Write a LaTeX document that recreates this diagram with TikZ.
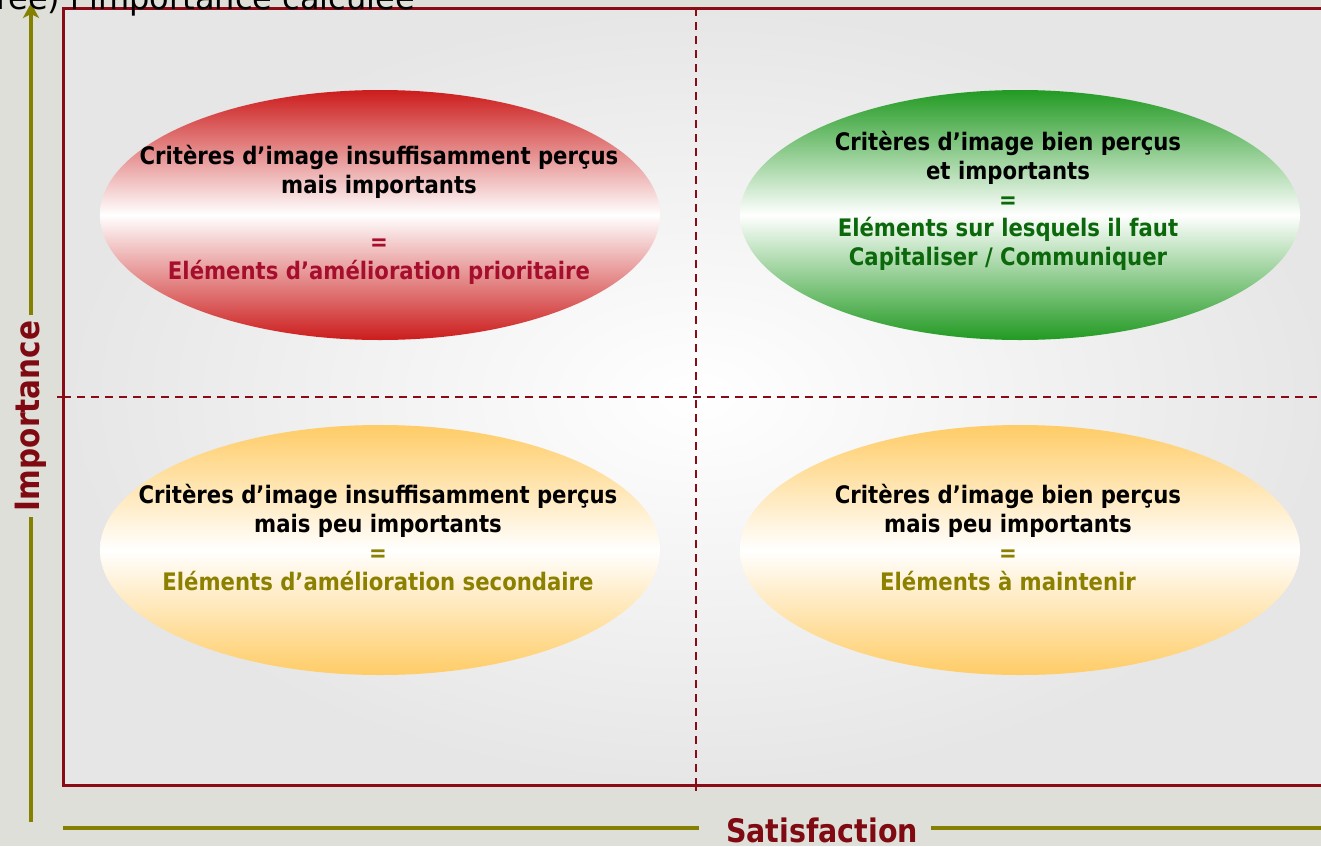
\documentclass[tikz,border=0pt]{standalone}
\usepackage{fontspec}
\setmainfont{DejaVu Sans}[FakeStretch=0.88]
\newfontfamily\headfont{DejaVu Sans}
\usetikzlibrary{shapes.geometric,arrows.meta,calc}

\definecolor{pagebg}{HTML}{DFDFD9}
\definecolor{plotbg}{HTML}{E6E6E6}
\definecolor{framered}{HTML}{8A0A16}
\definecolor{axisolive}{HTML}{858000}
\definecolor{labelred}{HTML}{800A12}
\definecolor{hotred}{HTML}{CC1C1C}
\definecolor{leafgreen}{HTML}{229A22}
\definecolor{gold}{HTML}{FFCC66}
\definecolor{txtred}{HTML}{A50F2D}
\definecolor{txtgreen}{HTML}{0B680B}
\definecolor{txtolive}{HTML}{8C8000}

\begin{document}
\begin{tikzpicture}[x=1pt,y=-1pt,
  zone/.style={ellipse, minimum width=560pt, minimum height=250pt, inner sep=0pt},
  zonetext/.style={align=center, font=\fontsize{24.1}{28.7}\selectfont\bfseries, inner sep=0pt},
  axislabel/.style={font=\fontsize{32.4}{34}\selectfont\bfseries, text=labelred, inner sep=0pt},
  axisline/.style={draw=axisolive, line width=4.5pt},
  divider/.style={draw=framered, line width=1.5pt, dash pattern=on 8pt off 6pt},
  tick/.style={draw=framered, line width=1.5pt}
]
% page and plot area
\useasboundingbox (0,0) rectangle (1321,846);
\fill[pagebg] (0,0) rectangle (1321,846);
\coordinate (plotNW) at (63,8);
\coordinate (plotSE) at (1331,785);
\shade[inner color=white, outer color=plotbg] (plotNW) rectangle (plotSE);

% quadrant dividers
\coordinate (vTop) at (696,8);
\coordinate (vBot) at (696,785);
\coordinate (vTick) at (696,791);
\coordinate (hLeft) at (63,397);
\coordinate (hTick) at (57,397);
\coordinate (hRight) at (1321,397);
\draw[divider] (vTop) -- (vBot);
\draw[divider] (hLeft) -- (hRight);
\draw[tick] (vBot) -- (vTick);
\draw[tick] (hTick) -- (hLeft);

% quadrant ellipses
\node[zone, top color=hotred, bottom color=hotred, middle color=white] (tlZone) at (380,215) {};
\node[zone, top color=leafgreen, bottom color=leafgreen, middle color=white] (trZone) at (1020,215) {};
\node[zone, top color=gold, bottom color=gold, middle color=white] (blZone) at (380,550) {};
\node[zone, top color=gold, bottom color=gold, middle color=white] (brZone) at (1020,550) {};

\node[zonetext] (tlText) at (379,215) {Critères d’image insuffisamment perçus\\ mais importants\\[28.7pt] \textcolor{txtred}{=}\\ \textcolor{txtred}{Eléments d’amélioration prioritaire}};
\node[zonetext] (trText) at (1008,201) {Critères d’image bien perçus\\ et importants\\ \textcolor{txtgreen}{=}\\ \textcolor{txtgreen}{Eléments sur lesquels il faut}\\ \textcolor{txtgreen}{Capitaliser / Communiquer}};
\node[zonetext] (blText) at (378,537.5) {Critères d’image insuffisamment perçus\\ mais peu importants\\ \textcolor{txtolive}{=}\\ \textcolor{txtolive}{Eléments d’amélioration secondaire}};
\node[zonetext] (brText) at (1008,537.5) {Critères d’image bien perçus\\ mais peu importants\\ \textcolor{txtolive}{=}\\ \textcolor{txtolive}{Eléments à maintenir}};

% plot frame
\draw[framered, line width=3pt] (plotNW) rectangle (plotSE);

% axes (canvas shifts: positive yshift points up the page)
\node[axislabel, font=\fontsize{33.5}{35}\selectfont\bfseries, rotate=90] (imp) at (31,416) {Importance};
\node[axislabel, anchor=base] (sat) at (822,842) {Satisfaction};
\coordinate (yBot) at (31,822);
\coordinate (yTop) at (31,3);
\coordinate (xLeft) at (63,828);
\coordinate (xRight) at (1321,828);
\draw[axisline] (yBot) -- ([yshift=-6pt]yBot |- imp.west);
\draw[axisline, -{Stealth[length=15pt,width=16pt,inset=4pt]}] ([yshift=6pt]yTop |- imp.east) -- (yTop);
\draw[axisline] (xLeft) -- ([xshift=-27pt]xLeft -| sat.west);
\draw[axisline] ([xshift=13pt]xRight -| sat.east) -- (xRight);

% heading line above the plot
\node[anchor=base east, font=\headfont\fontsize{32}{32}\selectfont, inner sep=0pt] (heading) at (415,9) {rée) l’importance calculée};
\end{tikzpicture}
\end{document}
